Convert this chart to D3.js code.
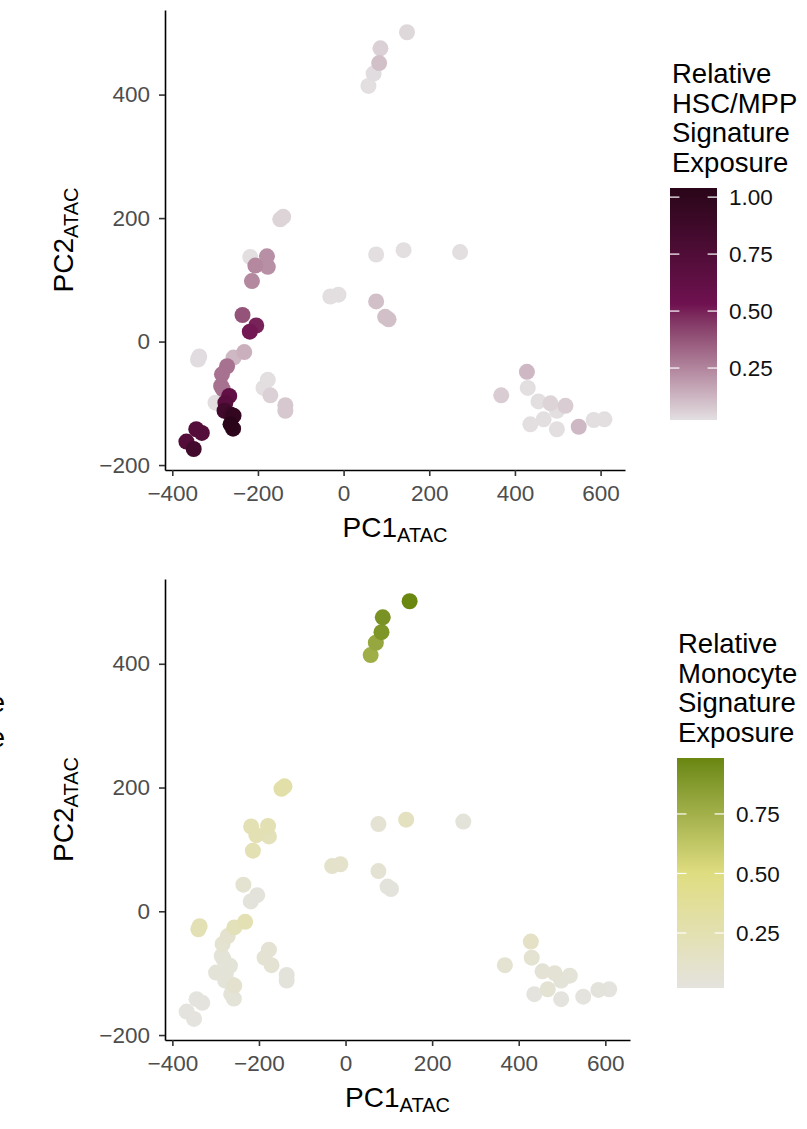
<!DOCTYPE html>
<html>
<head>
<meta charset="utf-8">
<script src="https://cdn.jsdelivr.net/npm/d3@7"></script>
<style>
    body { margin: 0; background: #fff; }
    svg text { font-family: "Liberation Sans", Arial, Helvetica, sans-serif; }
</style>
</head>
<body>
<div id="chart"></div>
<script>
'use strict';

// PCA coordinates of the samples (same in both panels)
const pc1 = [148, 86, 83, 70, 58, -148, -141, -218, -179, -177, -206, -214, 76, 140, 272, -31, -12, 76, 97, 105,
    -236, -204, -219, -340, -337, -232, -257, -272, -284, -286, -282, -299, -267, -276, -278, -257, -264, -258, -264,
    -177, -187, -171, -136, -136, -344, -331, -367, -350,
    428, 430, 368, 455, 483, 518, 498, 467, 436, 498, 549, 584, 609];
const pc2 = [501, 475, 451, 434, 414, 198, 202, 137, 138, 121, 123, 98, 141, 148, 145, 73, 76, 65, 40, 36,
    43, 26, 16, -29, -24, -17, -26, -40, -53, -72, -77, -99, -88, -99, -112, -120, -134, -141, -118,
    -62, -75, -87, -103, -112, -142, -148, -162, -174,
    -49, -75, -87, -97, -100, -104, -112, -126, -134, -142, -138, -127, -126];

// relative signature exposures
const hscExposure = [0.04, 0.06, 0.10, 0.03, 0.022, 0.05, 0.05, 0.022, 0.22, 0.22, 0.24, 0.24, 0.022, 0.022, 0.022, 0.022, 0.022, 0.10, 0.10, 0.10,
    0.38, 0.50, 0.52, 0.03, 0.03, 0.14, 0.12, 0.30, 0.30, 0.30, 0.30, 0.022, 0.62, 0.68, 0.85, 0.97, 1.04, 1.00, 0.90,
    0.022, 0.022, 0.06, 0.08, 0.08, 0.72, 0.72, 0.72, 0.85,
    0.12, 0.022, 0.07, 0.022, 0.05, 0.07, 0.022, 0.022, 0.022, 0.022, 0.12, 0.022, 0.022];
const monoExposure = [0.985, 0.92, 0.90, 0.80, 0.76, 0.30, 0.30, 0.24, 0.24, 0.21, 0.24, 0.24, 0.07, 0.17, 0.04, 0.12, 0.12, 0.07, 0.03, 0.03,
    0.09, 0.03, 0.03, 0.23, 0.23, 0.24, 0.21, 0.10, 0.09, 0.05, 0.05, 0.05, 0.05, 0.05, 0.04, 0.10, 0.05, 0.05, 0.05,
    0.07, 0.07, 0.07, 0.03, 0.03, 0.019, 0.019, 0.019, 0.019,
    0.14, 0.09, 0.09, 0.06, 0.06, 0.05, 0.05, 0.07, 0.02, 0.02, 0.02, 0.03, 0.02];

const xTicks = [-400, -200, 0, 200, 400, 600];
const yTicks = [-200, 0, 200, 400];
const hscTicks = [0.25, 0.5, 0.75, 1.0];
const monoTicks = [0.25, 0.5, 0.75];
const hscTitle = ['Relative', 'HSC/MPP', 'Signature', 'Exposure'];
const monoTitle = ['Relative', 'Monocyte', 'Signature', 'Exposure'];
const hscColors = ['#e3dfe1', '#6f1150', '#2a0519'];
const monoColors = ['#e4e3dd', '#dfdd80', '#6a8710'];


class ExposurePanel {

    constructor(svg, options) {
        this.svg = svg;
        this.options = options;
    }

    render() {

        let self = this;
        let o = this.options;
        let g = this.svg.append('g').attr('class', 'panel');

        let x = d3.scaleLinear().domain([-417, 657]).range([o.x0, o.x1]);
        let y = d3.scaleLinear().domain([-208, 537]).range([o.y1, o.y0]);

        let extent = d3.extent(o.values);
        let color = d3.scaleLinear()
            .domain([extent[0], (extent[0] + extent[1]) / 2, extent[1]])
            .range(o.colors)
            .interpolate(d3.interpolateLab);

        let points = o.values.map(function (v, i) {
            return {x: pc1[i], y: pc2[i], v: v};
        });
        // darker points end up on top
        points.sort(function (a, b) { return a.v - b.v; });

        g.selectAll('.dot').data(points).enter().append('circle')
            .attr('class', 'dot')
            .attr('cx', function (d) { return x(d.x); })
            .attr('cy', function (d) { return y(d.y); })
            .attr('r', 8)
            .style('fill', function (d) { return color(d.v); });

        // axes
        let xAxis = g.append('g')
            .attr('transform', 'translate(0,' + o.y1 + ')')
            .call(d3.axisBottom(x).tickValues(xTicks).tickSize(6).tickSizeOuter(0).tickPadding(9));
        let yAxis = g.append('g')
            .attr('transform', 'translate(' + o.x0 + ',0)')
            .call(d3.axisLeft(y).tickValues(yTicks).tickSize(6).tickSizeOuter(0).tickPadding(9));

        [xAxis, yAxis].forEach(function (a) {
            a.select('.domain').style('stroke', '#000').style('stroke-width', 1.6);
            a.selectAll('.tick line').style('stroke', '#333').style('stroke-width', 1.6);
            a.selectAll('.tick text')
                .style('font-size', '22.5px')
                .style('fill', '#4d4d4d')
                .style('font-family', '"Liberation Sans", Arial, sans-serif');
        });

        // axis titles with subscripts
        let xTitle = g.append('text')
            .attr('x', (o.x0 + o.x1) / 2)
            .attr('y', o.y1 + 67)
            .style('text-anchor', 'middle')
            .style('font-size', '28px');
        xTitle.append('tspan').text('PC1');
        xTitle.append('tspan').attr('dy', 5).style('font-size', '20px').text('ATAC');

        let yTitle = g.append('text')
            .attr('transform', 'translate(73,' + ((o.y0 + o.y1) / 2) + ') rotate(-90)')
            .style('text-anchor', 'middle')
            .style('font-size', '28px');
        yTitle.append('tspan').text('PC2');
        yTitle.append('tspan').attr('dy', 5).style('font-size', '20px').text('ATAC');

        self.renderLegend(color, extent);
    }

    renderLegend(color, extent) {

        let o = this.options;
        let lg = this.svg.append('g').attr('class', 'legend');
        let barWidth = 47;

        lg.selectAll('.legend-title').data(o.title).enter().append('text')
            .attr('class', 'legend-title')
            .attr('x', o.titleX)
            .attr('y', function (d, i) { return o.titleY + i * 29.7; })
            .style('font-size', '27.5px')
            .style('fill', '#000')
            .text(function (d) { return d; });

        let ly = d3.scaleLinear().domain(extent).range([o.barBottom, o.barTop]);

        let gradId = 'grad-' + o.id;
        let grad = this.svg.append('defs').append('linearGradient')
            .attr('id', gradId)
            .attr('x1', 0).attr('y1', 1).attr('x2', 0).attr('y2', 0);
        d3.range(0, 1.0001, 0.05).forEach(function (t) {
            grad.append('stop')
                .attr('offset', t)
                .attr('stop-color', color(extent[0] + t * (extent[1] - extent[0])));
        });

        lg.append('rect')
            .attr('x', o.barX)
            .attr('y', o.barTop)
            .attr('width', barWidth)
            .attr('height', o.barBottom - o.barTop)
            .style('fill', 'url(#' + gradId + ')');

        let ticks = lg.selectAll('.legend-tick').data(o.ticks).enter().append('g')
            .attr('class', 'legend-tick');
        ticks.append('line')
            .attr('x1', o.barX).attr('x2', o.barX + 9.4)
            .attr('y1', function (d) { return ly(d); })
            .attr('y2', function (d) { return ly(d); })
            .style('stroke', '#fff').style('stroke-width', 1.2);
        ticks.append('line')
            .attr('x1', o.barX + barWidth - 9.4).attr('x2', o.barX + barWidth)
            .attr('y1', function (d) { return ly(d); })
            .attr('y2', function (d) { return ly(d); })
            .style('stroke', '#fff').style('stroke-width', 1.2);
        ticks.append('text')
            .attr('x', o.barX + barWidth + 12)
            .attr('y', function (d) { return ly(d); })
            .attr('dy', '0.36em')
            .style('font-size', '22.5px')
            .style('fill', '#111')
            .text(function (d) { return d3.format('.2f')(d); });
    }
}


let svg = d3.select('#chart').append('svg')
    .attr('width', 807)
    .attr('height', 1129)
    .style('background', '#fff');

new ExposurePanel(svg, {
    id: 'hsc', values: hscExposure, colors: hscColors, ticks: hscTicks, title: hscTitle,
    x0: 165, x1: 625, y0: 10, y1: 470,
    titleX: 672, titleY: 83, barX: 670, barTop: 188, barBottom: 420
}).render();

new ExposurePanel(svg, {
    id: 'mono', values: monoExposure, colors: monoColors, ticks: monoTicks, title: monoTitle,
    x0: 165, x1: 630, y0: 579, y1: 1040,
    titleX: 678, titleY: 653, barX: 677, barTop: 758, barBottom: 988
}).render();

// clipped legend text from the neighbouring figure at the left edge
svg.selectAll('.cut-text').data(['Relative', 'Signature']).enter().append('text')
    .attr('class', 'cut-text')
    .attr('x', 5)
    .attr('y', function (d, i) { return 712 + i * 35; })
    .style('text-anchor', 'end')
    .style('font-size', '27.5px')
    .text(function (d) { return d; });
</script>
</body>
</html>
